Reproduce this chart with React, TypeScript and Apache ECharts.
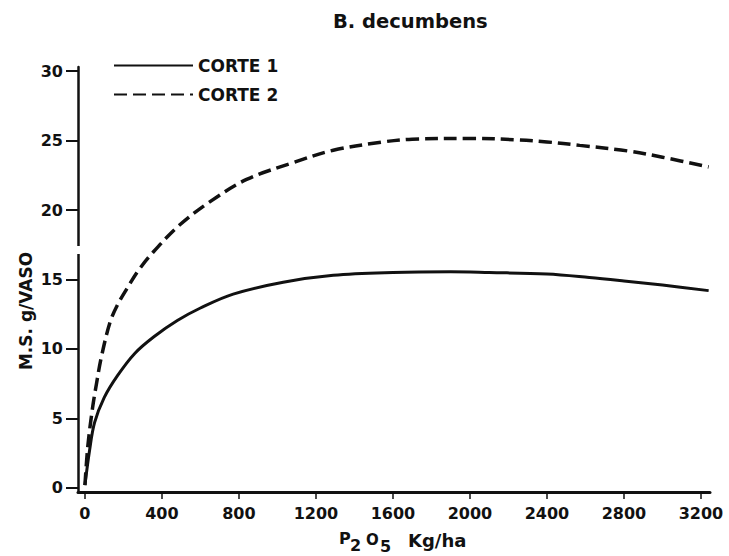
import React, { useEffect, useRef } from "react";
import * as echarts from "echarts";

const xTicks = [0, 400, 800, 1200, 1600, 2000, 2400, 2800, 3200];
const yTicks = [0, 5, 10, 15, 20, 25, 30];

const corte1X = [0, 24, 50, 100, 170, 260, 360, 480, 600, 770, 1030, 1290, 1600, 1900, 2100, 2400, 2620, 2800, 3000, 3240];
const corte1Y = [0.2, 2.7, 4.7, 6.5, 8.1, 9.7, 10.9, 12.05, 12.95, 13.95, 14.8, 15.3, 15.5, 15.55, 15.5, 15.4, 15.15, 14.9, 14.6, 14.2];

const corte2X = [0, 15, 40, 60, 85, 130, 170, 225, 275, 350, 490, 650, 840, 1080, 1290, 1550, 1700, 2000, 2250, 2400, 2570, 2820, 3000, 3240];
const corte2Y = [0.2, 3.0, 5.8, 7.5, 9.4, 11.9, 13.2, 14.5, 15.6, 16.9, 18.9, 20.6, 22.2, 23.4, 24.3, 24.9, 25.1, 25.15, 25.05, 24.9, 24.65, 24.25, 23.8, 23.1];

const seriesNames = ["CORTE 1", "CORTE 2"];
const titleText = "B. decumbens";
const yName = "M.S. g/VASO";

const FONT = "DejaVu Sans";
const INK = "#111";

export default function App() {
  const ref = useRef<HTMLDivElement>(null);
  useEffect(() => {
    if (!ref.current) return;
    const chart = echarts.init(ref.current, undefined, { renderer: "svg" });
    const pairs = (xs: number[], ys: number[]) => xs.map((x, i) => [x, ys[i]]);
    chart.setOption({
      animation: false,
      backgroundColor: "#fff",
      title: {
        text: titleText,
        left: 333,
        top: 11,
        padding: 0,
        textStyle: { fontFamily: FONT, fontSize: 19.5, fontWeight: "bold", color: INK },
      },
      legend: {
        orient: "vertical",
        left: 108,
        top: 52,
        itemWidth: 79,
        itemHeight: 14,
        itemGap: 12,
        data: seriesNames,
        itemStyle: { opacity: 0 },
        textStyle: { fontFamily: FONT, fontSize: 17, fontWeight: "bold", color: INK },
      },
      grid: { left: 78, right: 19, top: 67, bottom: 64 },
      xAxis: {
        type: "value",
        min: -36,
        max: 3247,
        axisLine: { onZero: false, lineStyle: { color: INK, width: 3 } },
        axisTick: { show: true, customValues: xTicks, length: 7, lineStyle: { color: INK, width: 1.5 } },
        axisLabel: {
          customValues: xTicks,
          formatter: (v: number) => String(v),
          margin: 13,
          fontFamily: FONT,
          fontSize: 16,
          fontWeight: "bold",
          color: INK,
        },
        splitLine: { show: false },
      },
      yAxis: {
        type: "value",
        min: -0.29,
        max: 30.29,
        axisLine: { show: true, onZero: false, lineStyle: { color: INK, width: 2.5 } },
        axisTick: { show: true, customValues: yTicks, length: 12, lineStyle: { color: INK, width: 2 } },
        axisLabel: {
          customValues: yTicks,
          formatter: (v: number) => String(v),
          margin: 15,
          fontFamily: FONT,
          fontSize: 16,
          fontWeight: "bold",
          color: INK,
        },
        splitLine: { show: false },
      },
      series: [
        {
          name: seriesNames[0],
          type: "line",
          data: pairs(corte1X, corte1Y),
          smooth: 0.35,
          symbol: "none",
          showSymbol: false,
          lineStyle: { color: INK, width: 3 },
          itemStyle: { color: INK },
        },
        {
          name: seriesNames[1],
          type: "line",
          data: pairs(corte2X, corte2Y),
          smooth: 0.35,
          symbol: "none",
          showSymbol: false,
          lineStyle: { color: INK, width: 3.5, type: [13, 6] },
          itemStyle: { color: INK },
        },
      ],
      graphic: [
        { type: "rect", shape: { x: 74, y: 246, width: 8, height: 8 }, style: { fill: "#fff" }, z: 100 },
        {
          type: "text",
          x: 26,
          y: 311,
          rotation: Math.PI / 2,
          style: { text: yName, fontFamily: FONT, fontSize: 17, fontWeight: "bold", fill: INK, align: "center", verticalAlign: "middle" },
        },
        { type: "text", x: 339, y: 538, style: { text: "P", fontFamily: FONT, fontSize: 16, fontWeight: "bold", fill: INK, align: "left", verticalAlign: "middle" } },
        { type: "text", x: 350, y: 545, style: { text: "2", fontFamily: FONT, fontSize: 16, fontWeight: "bold", fill: INK, align: "left", verticalAlign: "middle" } },
        { type: "text", x: 366, y: 540, style: { text: "O", fontFamily: FONT, fontSize: 15, fontWeight: "bold", fill: INK, align: "left", verticalAlign: "middle" } },
        { type: "text", x: 380, y: 546, style: { text: "5", fontFamily: FONT, fontSize: 16, fontWeight: "bold", fill: INK, align: "left", verticalAlign: "middle" } },
        { type: "text", x: 408, y: 540, style: { text: "Kg/ha", fontFamily: FONT, fontSize: 18, fontWeight: "bold", fill: INK, align: "left", verticalAlign: "middle" } },
      ],
    });
    return () => chart.dispose();
  }, []);
  return <div ref={ref} style={{ width: 729, height: 556, position: "absolute", left: 0, top: 0 }} />;
}
